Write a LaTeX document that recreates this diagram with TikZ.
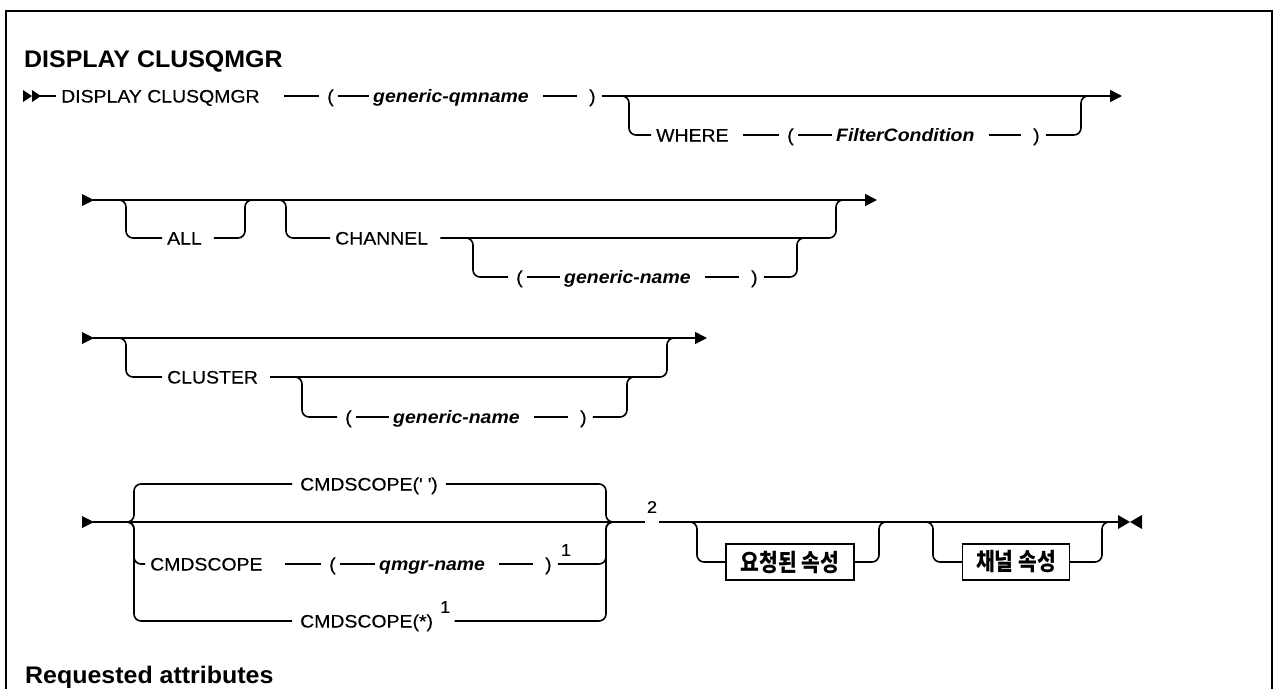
\documentclass[tikz,border=0pt]{standalone}
\usepackage{fontspec}
\setmainfont{Liberation Sans}
\newfontfamily\rowfam[FakeStretch=1.08,FakeBold=0.35]{Liberation Sans}
\newfontfamily\varfam[FakeStretch=1.08]{Liberation Sans}
\newfontfamily\headfam[FakeStretch=1.04]{Liberation Sans}
\newfontfamily\krfont[FakeStretch=0.85]{Noto Sans CJK KR}
\usetikzlibrary{arrows.meta}
\newcommand\rowfont{\rowfam\fontsize{18}{22}\selectfont}
\newcommand\varfont{\varfam\bfseries\itshape\fontsize{18}{22}\selectfont}
\newcommand\supfont{\rowfam\fontsize{17}{20}\selectfont}
\newcommand\headfont{\headfam\bfseries\fontsize{24}{28}\selectfont}
% link from node #1 to node #2, gap #3 after #1 and gap #4 before #2
\newcommand\lnk[4]{\draw[ln] ([xshift=#3pt]#1.east) -- ([xshift=-#4pt]#2.west);}
\tikzset{
  ln/.style={line width=1.6pt},
  br/.style={line width=1.6pt, rounded corners=7pt},
  kw/.style={font=\rowfont, inner sep=0pt, text height=16pt, text depth=3pt, anchor=west},
  var/.style={kw, font=\varfont},
  sup/.style={font=\supfont, inner sep=0pt},
  box/.style={draw, line width=1.3pt, font=\krfont\bfseries\fontsize{24}{28}\selectfont, inner xsep=0pt, minimum height=36pt},
  endarrow/.style={line width=1.6pt, -{Triangle[length=12pt,width=12pt]}},
}
\begin{document}
\begin{tikzpicture}[x=1pt,y=-1pt]
\path[use as bounding box] (0,0) rectangle (1274,688);
\draw[line width=2.2pt] (6,700) -- (6,11) -- (1272,11) -- (1272,700);

\node[anchor=base west, inner sep=0pt, font=\headfont] (title) at (24,67) {DISPLAY CLUSQMGR};

% ---------- row 1
\fill (23,90) -- (32,96) -- (23,102) -- cycle;
\fill (32,90) -- (41,96) -- (32,102) -- cycle;
\coordinate (s1) at (40,96);
\node[kw] (d1) at (61,96) {DISPLAY CLUSQMGR};
\node[kw] (lp1) at (327,96) {(};
\node[var] (gq) at (373,96) {generic-qmname};
\node[kw] (rp1) at (589,96) {)};
\coordinate (e1) at (1122,96);
\draw[ln] (s1) -- ([xshift=-5pt]d1.west);
\lnk{d1}{lp1}{24}{8} \lnk{lp1}{gq}{4}{4} \lnk{gq}{rp1}{14}{12}
\draw[endarrow] ([xshift=6pt]rp1.east) -- (e1);
\node[kw] (wh) at (656,135) {WHERE};
\node[kw] (lpw) at (787,135) {(};
\node[var] (fc) at (836,135) {FilterCondition};
\node[kw] (rpw) at (1033,135) {)};
\coordinate (w1) at (629,96);
\coordinate (w2) at (1081,96);
\draw[br] ([xshift=-10pt]w1) -- (w1) |- ([xshift=-5pt]wh.west);
\lnk{wh}{lpw}{14}{8} \lnk{lpw}{fc}{4}{4} \lnk{fc}{rpw}{14}{12}
\draw[br] ([xshift=6pt]rpw.east) -| (w2) -- ([xshift=10pt]w2);

% ---------- row 2
\fill (82,194) -- (94,200) -- (82,206) -- cycle;
\coordinate (s2) at (93,200);
\coordinate (e2) at (877,200);
\draw[endarrow] (s2) -- (e2);
\coordinate (a1) at (126,200);
\coordinate (a2) at (245,200);
\node[kw] (all) at (167,238) {ALL};
\draw[br] ([xshift=-10pt]a1) -- (a1) |- ([xshift=-5pt]all.west);
\draw[br] ([xshift=12pt]all.east) -| (a2) -- ([xshift=10pt]a2);
\coordinate (c1) at (286,200);
\coordinate (c2) at (836,200);
\coordinate (c3) at (473,238);
\coordinate (c4) at (797,238);
\node[kw] (chl) at (335,238) {CHANNEL};
\draw[br] ([xshift=-10pt]c1) -- (c1) |- ([xshift=-5pt]chl.west);
\draw[br] ([xshift=12pt]chl.east) -| (c2) -- ([xshift=10pt]c2);
\node[kw] (lp2) at (516,277) {(};
\node[var] (gn2) at (564,277) {generic-name};
\node[kw] (rp2) at (751,277) {)};
\draw[br] ([xshift=-10pt]c3) -- (c3) |- ([xshift=-8pt]lp2.west);
\lnk{lp2}{gn2}{4}{4} \lnk{gn2}{rp2}{14}{12}
\draw[br] ([xshift=6pt]rp2.east) -| (c4) -- ([xshift=10pt]c4);

% ---------- row 3
\fill (82,332) -- (94,338) -- (82,344) -- cycle;
\coordinate (s3) at (93,338);
\coordinate (e3) at (707,338);
\draw[endarrow] (s3) -- (e3);
\coordinate (u1) at (126,338);
\coordinate (u2) at (667,338);
\coordinate (u3) at (302,377);
\coordinate (u4) at (627,377);
\node[kw] (cls) at (167,377) {CLUSTER};
\draw[br] ([xshift=-10pt]u1) -- (u1) |- ([xshift=-5pt]cls.west);
\draw[br] ([xshift=12pt]cls.east) -| (u2) -- ([xshift=10pt]u2);
\node[kw] (lp3) at (345,417) {(};
\node[var] (gn3) at (393,417) {generic-name};
\node[kw] (rp3) at (580,417) {)};
\draw[br] ([xshift=-10pt]u3) -- (u3) |- ([xshift=-8pt]lp3.west);
\lnk{lp3}{gn3}{4}{4} \lnk{gn3}{rp3}{14}{12}
\draw[br] ([xshift=6pt]rp3.east) -| (u4) -- ([xshift=10pt]u4);

% ---------- row 4
\fill (82,516) -- (94,522) -- (82,528) -- cycle;
\coordinate (s4) at (93,522);
\coordinate (m1) at (134,522);
\coordinate (m2) at (606,522);
\node[kw] (cs1) at (300,484) {CMDSCOPE(\textquotesingle\ \textquotesingle)};
\node[kw] (cs2) at (150,564) {CMDSCOPE};
\node[kw] (lp4) at (329,564) {(};
\node[var] (qn) at (379,564) {qmgr-name};
\node[kw] (rp4) at (545,564) {)};
\node[sup] (n1a) at (566,550) {1};
\node[kw] (cs3) at (300,621) {CMDSCOPE(*)};
\node[sup] (n1b) at ([xshift=12pt]cs3.east |- 0,607) {1};
\draw[br] ([xshift=-10pt]m1) -- (m1) |- ([xshift=-8pt]cs1.west);
\draw[br] ([xshift=-10pt]m1) -- (m1) |- ([xshift=-5pt]cs2.west);
\draw[br] ([xshift=-10pt]m1) -- (m1) |- ([xshift=-8pt]cs3.west);
\draw[br] ([xshift=8pt]cs1.east) -| (m2) -- ([xshift=10pt]m2);
\draw[br] ([xshift=6pt]rp4.east) -| (m2) -- ([xshift=10pt]m2);
\draw[br] ([xshift=4pt]n1b.east |- cs3.east) -| (m2) -- ([xshift=10pt]m2);
\lnk{cs2}{lp4}{22}{8} \lnk{lp4}{qn}{4}{4} \lnk{qn}{rp4}{14}{12}
\node[sup] (n2) at (652,507) {2};
\coordinate (t1) at (1119,522);
\draw[ln] (s4) -- ([xshift=-2pt]n2.west |- s4);
\draw[ln] ([xshift=2pt]n2.east |- s4) -- (t1);
\coordinate (k1) at (697,522);
\coordinate (k2) at (879,522);
\node[box, minimum width=128pt] (rq) at (790,562) {요청된 속성};
\draw[br] ([xshift=-10pt]k1) -- (k1) |- (rq.west);
\draw[br] (rq.east) -| (k2) -- ([xshift=10pt]k2);
\coordinate (k3) at (933,522);
\coordinate (k4) at (1102,522);
\node[box, minimum width=107pt] (chn) at (1016,562) {채널 속성};
\draw[br] ([xshift=-10pt]k3) -- (k3) |- (chn.west);
\draw[br] (chn.east) -| (k4) -- ([xshift=10pt]k4);
\fill (1118,515) -- (1130,522) -- (1118,529) -- cycle;
\fill (1142,515) -- (1130,522) -- (1142,529) -- cycle;

\node[anchor=base west, inner sep=0pt, font=\headfont] (req) at (25,683) {Requested attributes};
\end{tikzpicture}
\end{document}
